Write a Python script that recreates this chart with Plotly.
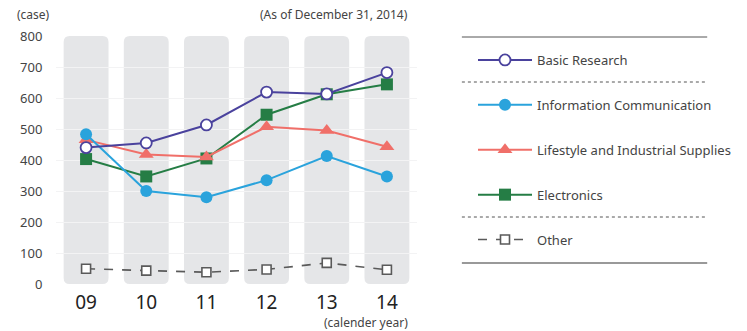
import plotly.graph_objects as go

# Patent applications by field (cases), calendar years 2009-2014
years = ["09", "10", "11", "12", "13", "14"]
basic_research = [440, 455, 513, 619, 613, 682]
info_comm = [483, 300, 280, 335, 413, 347]
lifestyle = [465, 418, 410, 507, 495, 443]
electronics = [403, 347, 405, 546, 612, 644]
other = [49, 43, 38, 47, 68, 46]

y_ticks = [0, 100, 200, 300, 400, 500, 600, 700, 800]

W, H = 747, 331
ML, MR, MT, MB = 56, 329, 36, 47
PW, PH = W - ML - MR, H - MT - MB
x_lo, x_hi = -0.5, len(years) - 0.5
y_lo, y_hi = 0, 800

font = "Noto Sans, Open Sans, sans-serif"
xs = list(range(len(years)))

fig = go.Figure()

# Traces added back to front; legendrank sets the legend order
series = [
    ("Other", other, "#5a5a5a", "square-open", 9, "dash", 5, 1.6),
    ("Electronics", electronics, "#257d45", "square", 12, "solid", 4, 2),
    ("Lifestyle and Industrial Supplies", lifestyle, "#f06f69", "triangle-up", 13, "solid", 3, 2),
    ("Information Communication", info_comm, "#2aa3dc", "circle", 12, "solid", 2, 2),
    ("Basic Research", basic_research, "#4a429d", "circle", 11, "solid", 1, 2),
]
for name, vals, color, sym, size, dash, rank, lw in series:
    marker = dict(symbol=sym, size=size, color=color)
    if name == "Basic Research":
        marker = dict(symbol="circle", size=size, color="white",
                      line=dict(color=color, width=1.8))
    if name == "Other":
        marker = dict(symbol="square", size=size, color="white",
                      line=dict(color=color, width=1.6))
    fig.add_trace(go.Scatter(
        x=xs, y=vals, name=name, mode="lines+markers",
        line=dict(color=color, width=lw, dash=dash),
        marker=marker, legendrank=rank, legendgroup=name,
        cliponaxis=False,
    ))

# Rounded grey column behind each year
half_w = 22.5 * (x_hi - x_lo) / PW
rx = 6 * (x_hi - x_lo) / PW
ry = 6 * (y_hi - y_lo) / PH
for i in xs:
    x0, x1 = i - half_w, i + half_w
    y0, y1 = y_lo, y_hi
    path = (f"M{x0+rx},{y0} L{x1-rx},{y0} Q{x1},{y0} {x1},{y0+ry} "
            f"L{x1},{y1-ry} Q{x1},{y1} {x1-rx},{y1} L{x0+rx},{y1} "
            f"Q{x0},{y1} {x0},{y1-ry} L{x0},{y0+ry} Q{x0},{y0} {x0+rx},{y0} Z")
    fig.add_shape(type="path", path=path, xref="x", yref="y",
                  fillcolor="#e5e6e8", line=dict(width=0), layer="below")


def px_x(p):
    return (p - ML) / PW


def px_y(p):
    return (H - MB - p) / PH


# Legend frame: solid rules top and bottom, dotted separators
for py, dash, col, w in [(37, "solid", "#555555", 1),
                         (82, "dot", "#555555", 1),
                         (217, "dot", "#555555", 1),
                         (263, "solid", "#777777", 1.6)]:
    fig.add_shape(type="line", xref="paper", yref="paper",
                  x0=px_x(463), x1=px_x(709), y0=px_y(py), y1=px_y(py),
                  line=dict(color=col, width=w, dash=dash))

fig.add_annotation(text="(case)", xref="paper", yref="paper",
                   x=px_x(15), y=px_y(15), xanchor="left", yanchor="middle",
                   showarrow=False, font=dict(size=12, color="#444444", family=font))
fig.add_annotation(text="(As of December 31, 2014)", xref="paper", yref="paper",
                   x=px_x(411), y=px_y(14), xanchor="right", yanchor="middle",
                   showarrow=False, font=dict(size=12, color="#444444", family=font))
fig.add_annotation(text="(calender year)", xref="paper", yref="paper",
                   x=px_x(411), y=px_y(322), xanchor="right", yanchor="middle",
                   showarrow=False, font=dict(size=12, color="#444444", family=font))

fig.update_layout(
    width=W, height=H,
    margin=dict(l=ML, r=MR, t=MT, b=MB, pad=0),
    paper_bgcolor="white", plot_bgcolor="white",
    font=dict(family=font, color="#444444"),
    showlegend=True,
    legend=dict(x=px_x(473), y=px_y(45), xanchor="left", yanchor="top",
                tracegroupgap=25, font=dict(size=13, color="#444444", family=font),
                bgcolor="rgba(0,0,0,0)", itemwidth=54),
    xaxis=dict(range=[x_lo, x_hi], tickvals=xs, ticktext=years,
               showgrid=False, zeroline=False, showline=False,
               ticks="outside", ticklen=1, tickcolor="rgba(0,0,0,0)",
               tickfont=dict(size=19, color="#222222", family=font),
               fixedrange=True),
    yaxis=dict(range=[y_lo, y_hi], tickvals=y_ticks,
               showgrid=True, gridcolor="#f3f3f4", gridwidth=1,
               zeroline=False, showline=False,
               ticks="outside", ticklen=10, tickcolor="rgba(0,0,0,0)",
               tickfont=dict(size=13, color="#444444", family=font),
               fixedrange=True),
)

fig.write_html("out.html")
